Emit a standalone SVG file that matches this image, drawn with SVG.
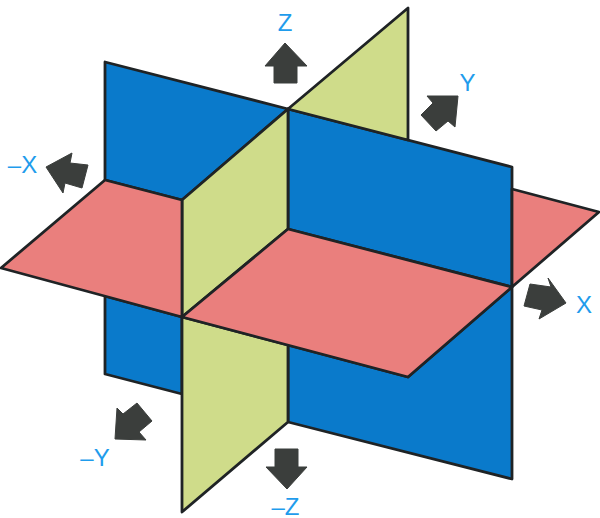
<svg xmlns="http://www.w3.org/2000/svg" width="600" height="518" viewBox="0 0 600 518">
<style>
.p{stroke:#1f2325;stroke-width:2.8;stroke-linejoin:round}
.b{fill:#0a7acb}.r{fill:#ea7f7d}.g{fill:#cfdc8a}
.a{fill:#3b3e3c;stroke:#3b3e3c;stroke-width:1;stroke-linejoin:round}
text{font-family:"Liberation Sans",Arial,sans-serif;font-size:24px;fill:#1f9cec}
</style>
<rect width="600" height="518" fill="#fff"/>
<g id="blue-plane">
<polygon class="p b" points="105,62 288,109 182,200 105,180"/>
<polygon class="p b" points="288,109 512,167 512,287 288,229"/>
<polygon class="p b" points="105,296 182,317 182,394 105,374"/>
<polygon class="p b" points="288,345 408,377 512,287 512,479 288,422"/>
</g>
<g id="green-plane">
<polygon class="p g" points="288,109 408,8 408,140"/>
<polygon class="p g" points="288,109 182,200 182,317 288,229"/>
<polygon class="p g" points="182,317 288,345 288,422 182,512"/>
</g>
<g id="pink-plane">
<polygon class="p r" points="105,180 182,200 182,317 1,268"/>
<polygon class="p r" points="182,317 288,229 512,287 408,377"/>
<polygon class="p r" points="512,189 599,212 512,287"/>
</g>
<g id="arrow-z"><polygon class="a" points="285,43 307,66 297,66 297,83 274,83 274,66 265,66"/><text x="285" y="31" text-anchor="middle">Z</text></g>
<g id="arrow-y"><polygon class="a" points="458,96 455,127 448,121 436,131 421,115 433,103 427,96"/><text x="467.5" y="91" text-anchor="middle">Y</text></g>
<g id="arrow-minus-x"><polygon class="a" points="46,167 72,153 70,163 88,165 82,188 65,183 63,193"/><text x="22.5" y="173" text-anchor="middle">–X</text></g>
<g id="arrow-x"><polygon class="a" points="566,303 548,278 551,287 530,284 524,306 542,310 539,319"/><text x="584" y="313" text-anchor="middle">X</text></g>
<g id="arrow-minus-y"><polygon class="a" points="115,439 117,408 123,414 137,403 152,421 139,432 146,440"/><text x="95" y="466" text-anchor="middle">–Y</text></g>
<g id="arrow-minus-z"><polygon class="a" points="287,489 307,467 298,467 298,449 275,449 275,467 266,467"/><text x="285.5" y="514.5" text-anchor="middle">–Z</text></g>
</svg>
